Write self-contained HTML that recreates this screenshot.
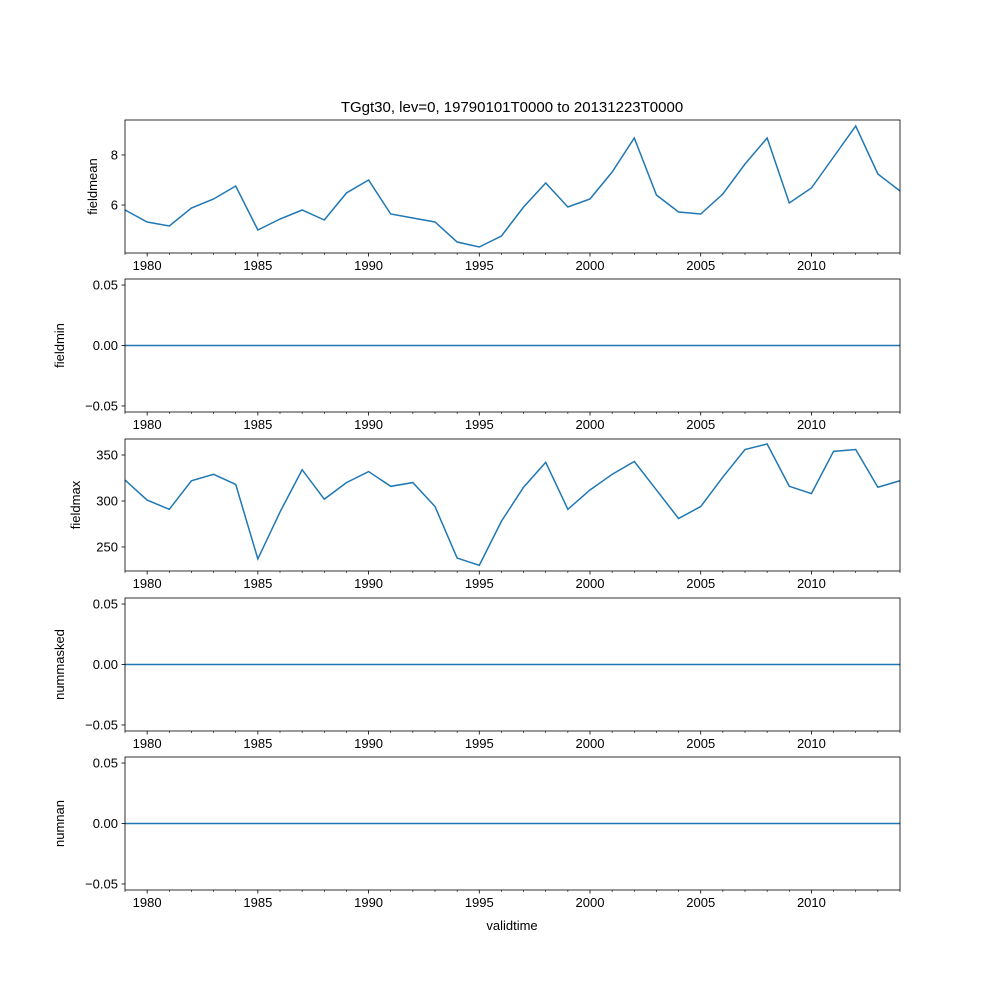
<!DOCTYPE html>
<html><head><meta charset="utf-8"><style>
body{margin:0;background:#fff;}
svg text{font-family:"Liberation Sans","DejaVu Sans",sans-serif;font-size:13px;fill:#000;}
</style></head><body>
<svg id="chart" width="1000" height="1000" xmlns="http://www.w3.org/2000/svg">
<rect width="1000" height="1000" fill="#fff"/>
</svg>
<script>
const years = [1979,1980,1981,1982,1983,1984,1985,1986,1987,1988,1989,1990,1991,1992,1993,1994,1995,1996,1997,1998,1999,2000,2001,2002,2003,2004,2005,2006,2007,2008,2009,2010,2011,2012,2013,2014];
const fieldmean = [5.8,5.32,5.16,5.88,6.24,6.76,5.0,5.44,5.8,5.4,6.48,7.0,5.64,5.48,5.32,4.52,4.32,4.76,5.92,6.88,5.92,6.24,7.32,8.68,6.4,5.72,5.64,6.44,7.64,8.68,6.08,6.68,7.92,9.16,7.24,6.56];
const fieldmin = years.map(()=>0);
const fieldmax = [322.8,301,291,322,329,318,237,288,334,302,320,332,316,320,294,238,230,278,315,342,291,312,329,343,312,281,294,326,356,362,316,308,354,356,315,322];
const nummasked = years.map(()=>0);
const numnan = years.map(()=>0);
const xTicks = [1980,1985,1990,1995,2000,2005,2010];

const NS="http://www.w3.org/2000/svg";
const svg=document.getElementById('chart');
function el(t,a,p){const e=document.createElementNS(NS,t);for(const k in a)e.setAttribute(k,a[k]);(p||svg).appendChild(e);return e;}
const L=125,R=900;
const xs=y=>L+(y-1979)/(2014-1979)*(R-L);

const panels=[
 {name:'fieldmean',data:fieldmean,top:120,bot:253,ymin:4.08,ymax:9.4,ticks:[6,8],fmt:v=>String(v),lx:97},
 {name:'fieldmin',data:fieldmin,top:279,bot:412,ymin:-0.055,ymax:0.055,ticks:[-0.05,0,0.05],fmt:v=>v.toFixed(2).replace('-','−'),lx:64},
 {name:'fieldmax',data:fieldmax,top:439,bot:571,ymin:223.9,ymax:367.4,ticks:[250,300,350],fmt:v=>String(v),lx:80},
 {name:'nummasked',data:nummasked,top:598,bot:731,ymin:-0.055,ymax:0.055,ticks:[-0.05,0,0.05],fmt:v=>v.toFixed(2).replace('-','−'),lx:64},
 {name:'numnan',data:numnan,top:757,bot:890,ymin:-0.055,ymax:0.055,ticks:[-0.05,0,0.05],fmt:v=>v.toFixed(2).replace('-','−'),lx:64}
];
panels.forEach(p=>{
 const g=el('g',{});
 
 
 const ys=v=>p.bot-(v-p.ymin)/(p.ymax-p.ymin)*(p.bot-p.top);
 const pts=years.map((y,i)=>xs(y).toFixed(2)+','+ys(p.data[i]).toFixed(2)).join(' ');
 const line=el('polyline',{points:pts,fill:'none',stroke:'#1f77b4','stroke-width':1.5},g);
 
 
 el('rect',{x:L,y:p.top,width:R-L,height:p.bot-p.top,fill:'none',stroke:'#000','stroke-width':0.8},g);
 p.ticks.forEach(t=>{
  const y=ys(t);
  el('line',{x1:L-3.5,x2:L,y1:y,y2:y,stroke:'#000','stroke-width':0.8},g);
  const tx=el('text',{x:L-7,y:y+4.5,'text-anchor':'end'},g);tx.textContent=p.fmt(t);
  
  
 });
 years.forEach(yr=>{
  const x=xs(yr);const major=xTicks.includes(yr);
  el('line',{x1:x,x2:x,y1:p.bot,y2:p.bot+(major?3.5:2),stroke:'#000','stroke-width':major?0.8:0.6},g);
 });
 xTicks.forEach(yr=>{
  const tx=el('text',{x:xs(yr),y:p.bot+17,'text-anchor':'middle'},g);tx.textContent=yr;
  
  
 });
 const cy=(p.top+p.bot)/2;
 const lab=el('text',{x:0,y:0,'text-anchor':'middle',transform:`translate(${p.lx},${cy}) rotate(-90)`},g);
 lab.textContent=p.name;
 
 
});
const title=el('text',{x:512,y:112,'text-anchor':'middle'});
title.style.fontSize='15px';
title.textContent='TGgt30, lev=0, 19790101T0000 to 20131223T0000';


const xl=el('text',{x:512,y:930,'text-anchor':'middle'});
xl.textContent='validtime';


</script>
</body></html>
